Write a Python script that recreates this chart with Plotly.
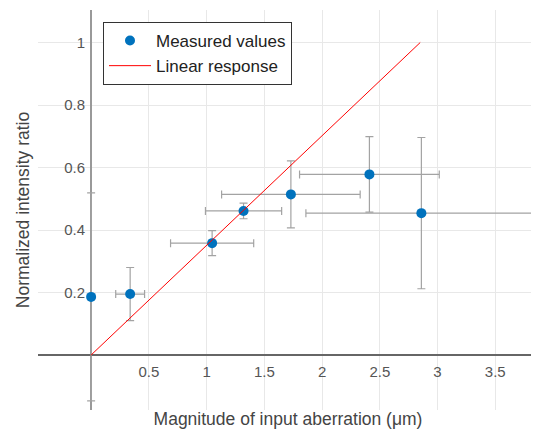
import plotly.graph_objects as go

# Measured data
x_meas = [0.0, 0.338, 1.048, 1.32, 1.73, 2.41, 2.86]
y_meas = [0.186, 0.195, 0.358, 0.461, 0.514, 0.578, 0.454]
x_err = [0.0, 0.125, 0.36, 0.33, 0.6, 0.605, 1.0]
y_err = [0.333, 0.085, 0.04, 0.025, 0.107, 0.121, 0.242]

# Linear response
x_lin = [0.0, 2.85]
y_lin = [0.0, 1.0]

x_ticks = [0.5, 1, 1.5, 2, 2.5, 3, 3.5]
x_ticklabels = ["0.5", "1", "1.5", "2", "2.5", "3", "3.5"]
y_ticks = [0.2, 0.4, 0.6, 0.8, 1.0]
y_ticklabels = ["0.2", "0.4", "0.6", "0.8", "1"]

x_range = [-0.46, 3.87]
y_range = [-0.176, 1.104]

FONT = "Liberation Sans, Arial, sans-serif"
ERRC = "#a3a3a3"

fig = go.Figure()
fig.add_trace(go.Scatter(
    x=x_meas, y=y_meas, mode="markers", name="Measured values",
    marker=dict(color="#0072BD", size=10),
    error_x=dict(type="data", array=x_err, color=ERRC, thickness=1.2, width=4),
    error_y=dict(type="data", array=y_err, color=ERRC, thickness=1.2, width=4),
))
fig.add_trace(go.Scatter(
    x=x_lin, y=y_lin, mode="lines", name="Linear response",
    line=dict(color="#ff0000", width=1),
))

x0_pos = (0 - x_range[0]) / (x_range[1] - x_range[0])
y0_pos = (0 - y_range[0]) / (y_range[1] - y_range[0])

fig.update_layout(
    width=531, height=428,
    margin=dict(l=30, r=1, t=2, b=26, autoexpand=False),
    plot_bgcolor="white", paper_bgcolor="white",
    font=dict(family=FONT, color="#444"),
    showlegend=True,
    legend=dict(
        x=0.13, y=0.97, xanchor="left", yanchor="top",
        bgcolor="white", bordercolor="#333", borderwidth=1,
        font=dict(size=17, color="#222"),
        tracegroupgap=0, itemwidth=42,
    ),
    xaxis=dict(
        range=x_range, tickvals=x_ticks, showticklabels=False, automargin=False,
        showgrid=True, gridcolor="#e8e8e8", gridwidth=1,
        zeroline=True, zerolinecolor="#999", zerolinewidth=1.5,
        title=dict(text="Magnitude of input aberration (μm)",
                   font=dict(size=17.5, color="#444"), standoff=2),
        showline=False,
    ),
    yaxis=dict(
        range=y_range, tickvals=y_ticks, showticklabels=False, automargin=False,
        showgrid=True, gridcolor="#e8e8e8", gridwidth=1,
        zeroline=True, zerolinecolor="#666", zerolinewidth=1.5,
        title=dict(text="Normalized intensity ratio",
                   font=dict(size=17.5, color="#444"), standoff=2),
        showline=False,
    ),
    xaxis2=dict(
        overlaying="x", matches="x", anchor="free", position=y0_pos, automargin=False,
        tickvals=x_ticks, ticktext=x_ticklabels, showgrid=False,
        zeroline=False, showline=False, ticks="",
        tickfont=dict(size=15, color="#555"), ticklabelstandoff=6,
    ),
    yaxis2=dict(
        overlaying="y", matches="y", anchor="free", position=x0_pos, side="left",
        automargin=False,
        tickvals=y_ticks, ticktext=y_ticklabels, showgrid=False,
        zeroline=False, showline=False, ticks="",
        tickfont=dict(size=15, color="#555"), ticklabelstandoff=6,
    ),
)

# invisible trace to activate overlay axes
fig.add_trace(go.Scatter(x=[x_range[0]], y=[y_range[0]], xaxis="x2", yaxis="y2",
                         mode="markers", marker=dict(opacity=0), showlegend=False,
                         hoverinfo="skip"))

fig.write_html("out.html")
